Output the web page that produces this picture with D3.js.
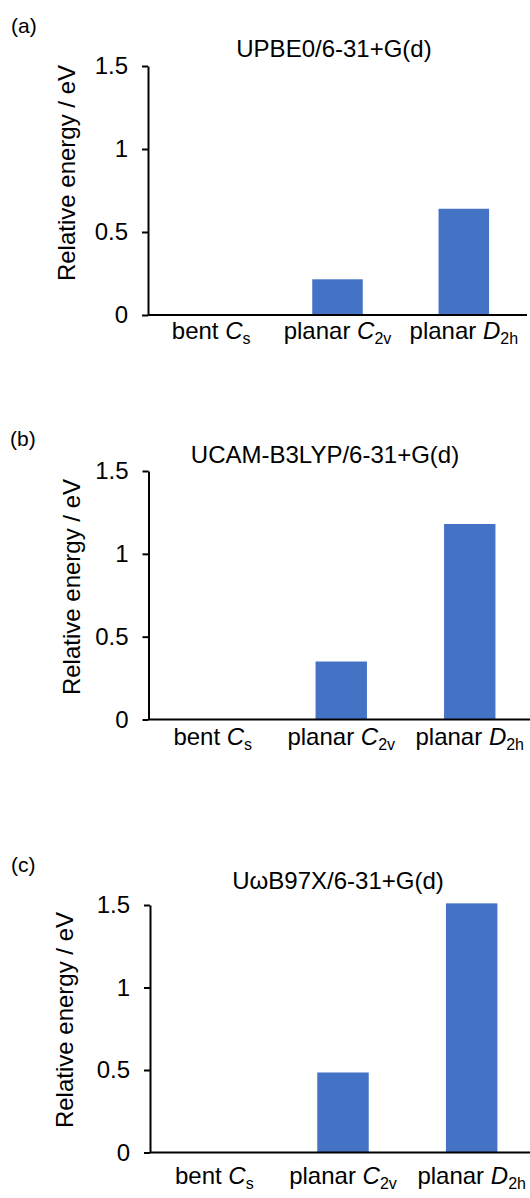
<!DOCTYPE html>
<html>
<head>
<meta charset="utf-8">
<script src="https://cdn.jsdelivr.net/npm/d3@7"></script>
<style>
  html, body { margin: 0; padding: 0; background: #fff; }
  svg { display: block; font-family: "Liberation Sans", Arial, sans-serif; }
</style>
</head>
<body>
<svg id="chart" width="530" height="1198"></svg>
<script>
// categories (prefix + italic symbol + subscript)
const catPrefix = ['bent', 'planar', 'planar'];
const catSymbol = ['C', 'C', 'D'];
const catSub = ['s', '2v', '2h'];

// relative energies / eV
const upbe0 = [0, 0.215, 0.64];
const ucamB3lyp = [0, 0.35, 1.18];
const uwb97x = [0, 0.485, 1.51];

const yTicks = [0, 0.5, 1, 1.5];
const titles = ['UPBE0/6-31+G(d)', 'UCAM-B3LYP/6-31+G(d)', 'U\u03c9B97X/6-31+G(d)'];
const panelLabels = ['(a)', '(b)', '(c)'];
const yLabel = 'Relative energy / eV';

// layout of each panel
const panels = [
    { values: upbe0, x0: 148, x1: 527, top: 66, bottom: 315, catDy: 24, titleX: 334, titleY: 57, labX: 11, labY: 33, ylX: 75, ylY: 173 },
    { values: ucamB3lyp, x0: 148.5, x1: 534, top: 471, bottom: 719.5, catDy: 25, titleX: 325, titleY: 463, labX: 10, labY: 446, ylX: 80, ylY: 587 },
    { values: uwb97x, x0: 150, x1: 536, top: 905, bottom: 1152.5, catDy: 31, titleX: 338, titleY: 889, labX: 11, labY: 872, ylX: 73, ylY: 1020 }
];

const svg = d3.select('#chart');
const fontSize = 24;

panels.forEach((p, i) => {
    const g = svg.append('g');

    const x = d3.scaleBand().domain(d3.range(catPrefix.length)).range([p.x0, p.x1])
        .paddingInner(0.6).paddingOuter(0.3);
    const y = d3.scaleLinear().domain([0, 1.5]).range([p.bottom, p.top]);

    g.selectAll('rect.bar').data(p.values).enter().append('rect')
        .attr('class', 'bar')
        .attr('x', (d, j) => x(j))
        .attr('width', x.bandwidth())
        .attr('y', d => y(d))
        .attr('height', d => y(0) - y(d))
        .attr('fill', '#4472c4');

    const yAxis = g.append('g').attr('transform', `translate(${p.x0},0)`)
        .call(d3.axisLeft(y).tickValues(yTicks).tickFormat(d => String(d))
            .tickSize(6).tickSizeOuter(0).tickPadding(14));
    yAxis.selectAll('path, line').attr('stroke', '#000').attr('stroke-width', 2);
    yAxis.selectAll('text').attr('font-size', fontSize).attr('fill', '#000')
        .attr('font-family', '"Liberation Sans", Arial, sans-serif');

    // category baseline
    g.append('line')
        .attr('x1', p.x0).attr('x2', Math.min(p.x1, 530))
        .attr('y1', y(0)).attr('y2', y(0))
        .attr('stroke', '#000').attr('stroke-width', 2);

    const xl = g.selectAll('text.cat').data(catPrefix).enter().append('text')
        .attr('class', 'cat')
        .attr('x', (d, j) => x(j) + x.bandwidth() / 2)
        .attr('y', y(0) + p.catDy)
        .attr('text-anchor', 'middle')
        .attr('font-size', fontSize)
        .attr('fill', '#000');
    xl.append('tspan').text(d => d + ' ');
    xl.append('tspan').attr('font-style', 'italic').text((d, j) => catSymbol[j]);
    xl.append('tspan').attr('font-size', 16).attr('dy', 5).text((d, j) => catSub[j]);

    g.append('text')
        .attr('transform', `translate(${p.ylX},${p.ylY}) rotate(-90)`)
        .attr('text-anchor', 'middle')
        .attr('font-size', fontSize)
        .text(yLabel);

    g.append('text')
        .attr('x', p.titleX).attr('y', p.titleY)
        .attr('text-anchor', 'middle')
        .attr('font-size', fontSize)
        .text(titles[i]);

    g.append('text')
        .attr('x', p.labX).attr('y', p.labY)
        .attr('font-size', 21)
        .text(panelLabels[i]);
});
</script>
</body>
</html>
